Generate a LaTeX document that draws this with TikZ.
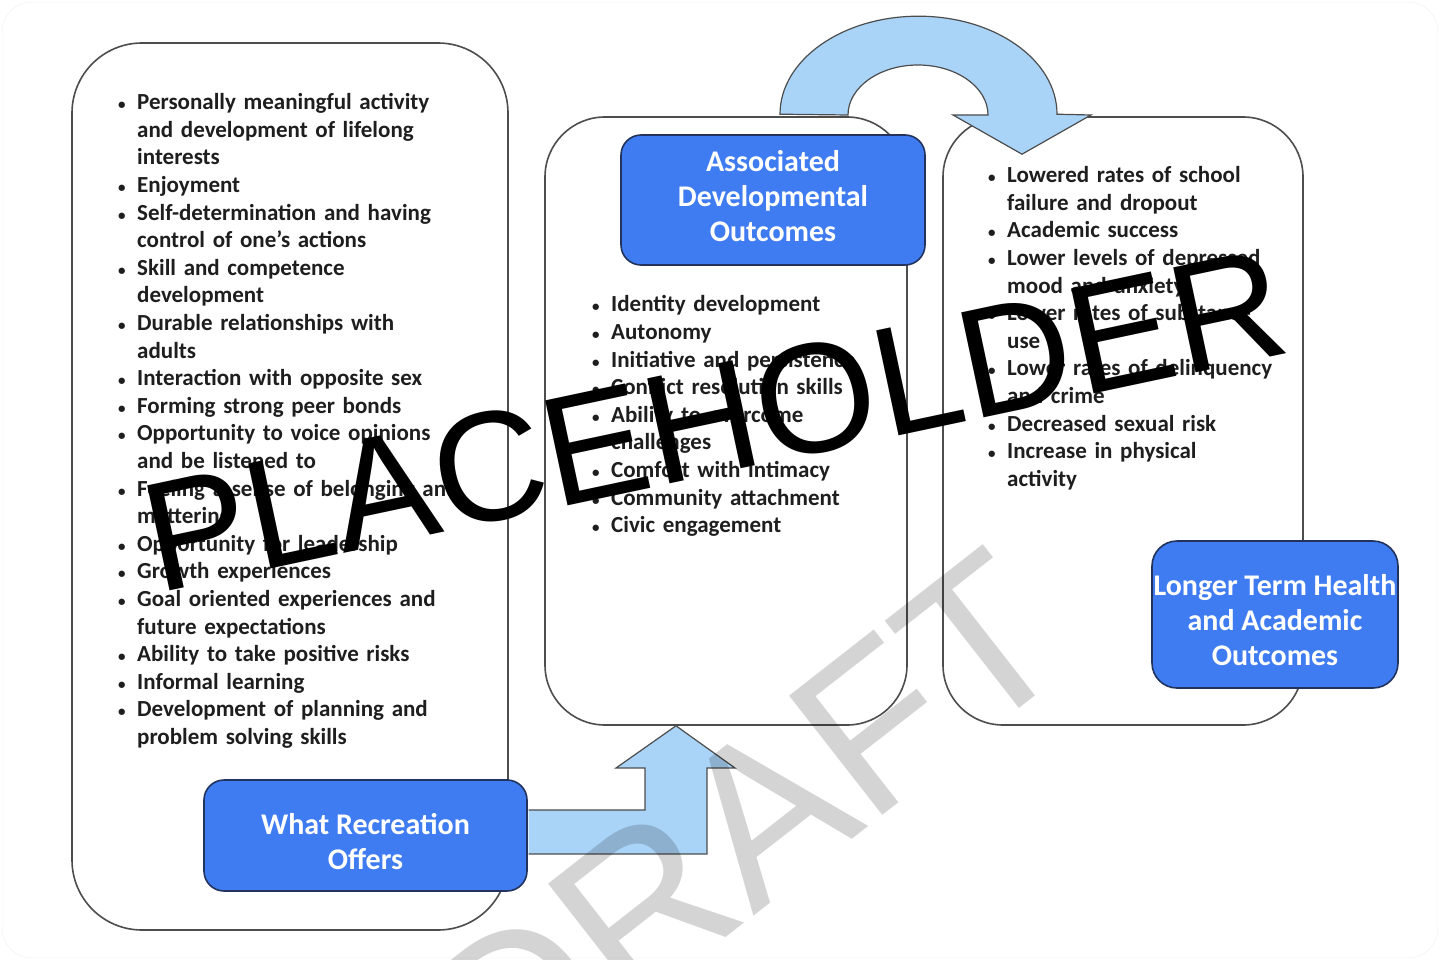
\documentclass[tikz,border=0pt]{standalone}
\usepackage{fontspec}
\setmainfont{Carlito}
\newfontfamily\markfont{Liberation Sans}
\usepackage{enumitem}
\definecolor{tagblue}{HTML}{3F7CF2}
\definecolor{flowblue}{HTML}{A9D4F8}
\definecolor{rimgray}{HTML}{4D4D4D}
\definecolor{tagrim}{HTML}{22345E}
\definecolor{inkgray}{HTML}{1E1E1E}
\newlist{pointlist}{itemize}{1}
\setlist[pointlist]{label={\fontsize{15}{15}\selectfont\textbullet},nosep,leftmargin=19pt,labelwidth=8pt,labelsep=11pt,align=left}

\begin{document}
\begin{tikzpicture}[x=1pt,y=-1pt,
		panel/.style={draw=rimgray,line width=1.6pt,fill=white,inner sep=0pt},
		tag/.style={draw=tagrim,line width=1.6pt,fill=tagblue,rounded corners=20pt,inner sep=0pt},
		tagtext/.style={text=white,font=\bfseries\fontsize{30}{35}\selectfont,align=center,inner sep=0pt},
		points/.style={anchor=north west,inner sep=0pt,text width=#1,text=inkgray,
			font=\bfseries\fontsize{23}{27.6}\selectfont,align=left},
		flow/.style={draw=rimgray,line width=1.2pt,fill=flowblue,line join=miter}]
	\fill[white] (0,0) rectangle (1440,960);
	\useasboundingbox (0,0) rectangle (1440,960);
	\draw[gray!12,rounded corners=30pt] (2,2) rectangle (1438,958);

	% panels
	\node[panel,rounded corners=70pt,minimum width=436pt,minimum height=887pt] (offerpanel) at (290,486.5) {};
	\node[panel,rounded corners=60pt,minimum width=362pt,minimum height=608pt] (devpanel) at (726,421) {};
	\node[panel,rounded corners=60pt,minimum width=360pt,minimum height=608pt] (healthpanel) at (1123,421) {};

	% tags
	\node[tag,minimum width=304pt,minimum height=130pt] (devtag) at (773,200) {};
	\node[tagtext] (devtitle) at ([yshift=4pt]devtag.center) {Associated\\Developmental\\Outcomes};
	\node[tag,minimum width=323pt,minimum height=111pt] (offertag) at (365.5,835.5) {};
	\node[tagtext] (offertitle) at ([yshift=-6pt]offertag.center) {What Recreation\\Offers};
	\node[tag,rounded corners=25pt,minimum width=246pt,minimum height=147pt] (healthtag) at (1275,614.5) {};
	\node[tagtext] (healthtitle) at ([yshift=-5.5pt]healthtag.center) {Longer Term Health\\and Academic\\Outcomes};

	% arrows
	\coordinate (uptip) at ([xshift=-50pt]devpanel.south);
	\draw[flow] ([xshift=0.8pt,yshift=25.5pt]offertag.east) -- (645,810) -- (645,768) -- (616,768) -- (uptip)
		-- (735,768) -- (707,768) -- (707,854) -- ([xshift=0.8pt,yshift=-18.5pt]offertag.east);
	\coordinate (loopfoot) at ([xshift=54pt,yshift=2pt]devpanel.north);
	\coordinate (looptip) at ([xshift=-101pt,yshift=-38pt]healthpanel.north);
	\draw[flow] (loopfoot) arc[start angle=180,end angle=0,x radius=138.5pt,y radius=98pt] -- (1091,115) -- (looptip)
		-- (953,115) -- (988,115) arc[start angle=0,end angle=180,x radius=70pt,y radius=50pt] -- cycle;

	% lists
	\node[points=390pt] (offerlist) at (118,82) {\begin{pointlist}
		\item Personally meaningful activity\\and development of lifelong\\interests
		\item Enjoyment
		\item Self-determination and having\\control of one’s actions
		\item Skill and competence\\development
		\item Durable relationships with\\adults
		\item Interaction with opposite sex
		\item Forming strong peer bonds
		\item Opportunity to voice opinions\\and be listened to
		\item Feeling a sense of belonging and\\mattering
		\item Opportunity for leadership
		\item Growth experiences
		\item Goal oriented experiences and\\future expectations
		\item Ability to take positive risks
		\item Informal learning
		\item Development of planning and\\problem solving skills
	\end{pointlist}};
	\node[points=300pt] (devlist) at (592,284) {\begin{pointlist}
		\item Identity development
		\item Autonomy
		\item Initiative and persistence
		\item Conflict resolution skills
		\item Ability to overcome\\challenges
		\item Comfort with intimacy
		\item Community attachment
		\item Civic engagement
	\end{pointlist}};
	\node[points=300pt] (healthlist) at (988,155) {\begin{pointlist}
		\item Lowered rates of school\\failure and dropout
		\item Academic success
		\item Lower levels of depressed\\mood and anxiety
		\item Lower rates of substance\\use
		\item Lower rates of delinquency\\and crime
		\item Decreased sexual risk
		\item Increase in physical\\activity
	\end{pointlist}};

	% watermarks
	\node[font=\markfont\fontsize{220}{220}\selectfont,text=black,opacity=0.17,rotate=38,inner sep=0pt] (draft) at (745,827) {DRAFT};
	\node[font=\markfont\fontsize{156}{156}\selectfont,text=black,rotate=12,inner sep=0pt] (placeholder) at (714,420) {PLACEHOLDER};
\end{tikzpicture}
\end{document}
